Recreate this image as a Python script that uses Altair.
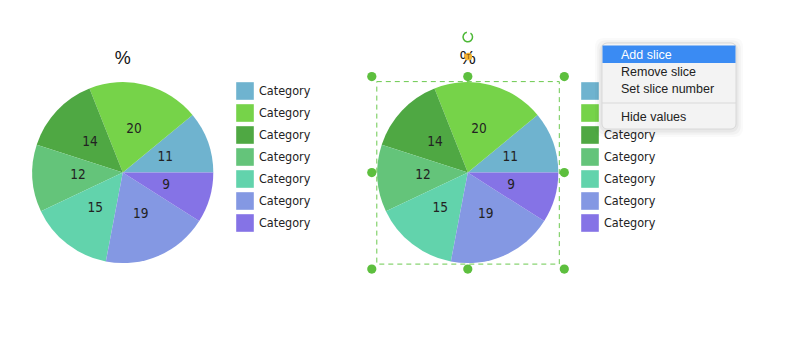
import math
import altair as alt
import pandas as pd

# ---- data ----
values = [11, 20, 14, 12, 15, 19, 9]
categories = ["Category"] * 7
colors = ["#6fb3cf", "#76d349", "#4fa843", "#64c47a", "#62d3ac", "#8498e3", "#8573e6"]
menu_items = ["Add slice", "Remove slice", "Set slice number", "Hide values"]
title_text = "%"

# ---- layout ----
W, H = 800, 343
R = 90.5
CY = 172.6
pie_cx = [122.8, 467.8]
legend_x = [236, 581]
FONT = "DejaVu Sans Condensed, Liberation Sans, sans-serif"
MENU_FONT = "Liberation Sans, Helvetica, Arial, sans-serif"
GREEN = "#5dbf3e"

df = pd.DataFrame({"idx": list(range(len(values))), "value": values, "cat": categories})
base = alt.Chart(df)
one = alt.Chart(pd.DataFrame({"a": [0]}))

color = alt.Color("idx:N", scale=alt.Scale(domain=list(range(len(values))), range=colors), legend=None)
theta = alt.Theta("value:Q", stack=True,
                  scale=alt.Scale(range=[math.pi / 2, math.pi / 2 + 2 * math.pi]))
order = alt.Order("idx:Q", sort="descending")
ly = alt.Y("idx:Q", scale=alt.Scale(domain=[0, 6], range=[91, 223]), axis=None)

layers = []
for cx, lx in zip(pie_cx, legend_x):
    layers.append(base.mark_arc(outerRadius=R).encode(
        theta=theta, color=color, order=order, x=alt.value(cx), y=alt.value(CY)))
    layers.append(base.mark_text(radius=45, fontSize=13.5, font=FONT, color="#222222").encode(
        theta=theta, order=order, text="value:Q", x=alt.value(cx), y=alt.value(CY)))
    layers.append(one.mark_text(fontSize=18, font=MENU_FONT, color="#111111").encode(
        text=alt.value(title_text), x=alt.value(cx), y=alt.value(59)))
    layers.append(base.mark_square(size=310, opacity=1).encode(
        x=alt.value(lx + 9), y=ly, color=color))
    layers.append(base.mark_text(align="left", baseline="middle", fontSize=12.5, font=FONT,
                                 color="#222222").encode(
        x=alt.value(lx + 23), y=ly, text="cat:N"))

# ---- selection box around second pie ----
cx2 = pie_cx[1]
bx0, bx1 = cx2 - 91, cx2 + 91.5
by0, by1 = CY - 91, CY + 91.5
layers.append(one.mark_rect(fillOpacity=0, stroke="#6cc94f", strokeWidth=1, strokeDash=[5, 4]).encode(
    x=alt.value(bx0), x2=alt.value(bx1), y=alt.value(by0), y2=alt.value(by1)))
off = 5
hx = [bx0 - off, cx2, bx1 + off]
hy = [by0 - off, CY, by1 + off]
for i, x in enumerate(hx):
    for j, y in enumerate(hy):
        if i == 1 and j == 1:
            continue
        layers.append(one.mark_circle(size=85, opacity=1, color=GREEN).encode(
            x=alt.value(x), y=alt.value(y)))
# rotation icon and text icon
layers.append(one.mark_arc(radius=4, radius2=5.5, theta=0.6, theta2=2 * math.pi - 0.2,
                           color="#4cb836").encode(x=alt.value(cx2), y=alt.value(37)))
layers.append(one.mark_circle(size=60, opacity=1, color="#f4b534").encode(
    x=alt.value(cx2 + 0.5), y=alt.value(56.5)))
layers.append(one.mark_text(fontSize=7, color="#7a4a00", font=MENU_FONT).encode(
    text=alt.value("T"), x=alt.value(cx2 + 0.5), y=alt.value(56.5)))

# ---- context menu ----
mx0, mx1, my0, my1 = 602, 736, 43, 129
for k, op in enumerate([0.02, 0.03, 0.04]):
    g = 7 - 2.2 * k
    layers.append(one.mark_rect(cornerRadius=8, color="#000000", opacity=op).encode(
        x=alt.value(mx0 - g), x2=alt.value(mx1 + g), y=alt.value(my0 - g + 2), y2=alt.value(my1 + g + 1)))
layers.append(one.mark_rect(cornerRadius=5, fill="#f3f3f3", stroke="#d2d2d2", strokeWidth=0.8).encode(
    x=alt.value(mx0), x2=alt.value(mx1), y=alt.value(my0), y2=alt.value(my1)))
layers.append(one.mark_rect(color="#3a8bf3").encode(
    x=alt.value(mx0 + 0.5), x2=alt.value(mx1 - 0.5), y=alt.value(45.5), y2=alt.value(63)))
layers.append(one.mark_rule(color="#d9d9d9", strokeWidth=1).encode(
    x=alt.value(mx0), x2=alt.value(mx1), y=alt.value(103)))
item_y = [54.5, 72.3, 89.3, 117.3]
for k, (item, y) in enumerate(zip(menu_items, item_y)):
    layers.append(one.mark_text(align="left", baseline="middle", fontSize=12.5, font=MENU_FONT,
                                color="#ffffff" if k == 0 else "#222222").encode(
        text=alt.value(item), x=alt.value(621), y=alt.value(y)))

chart = alt.layer(*layers).properties(
    width=W, height=H, autosize="none", padding=0, background="white"
).configure_view(stroke=None)

chart.save("out.html", embed_options={"renderer": "svg", "actions": False})
